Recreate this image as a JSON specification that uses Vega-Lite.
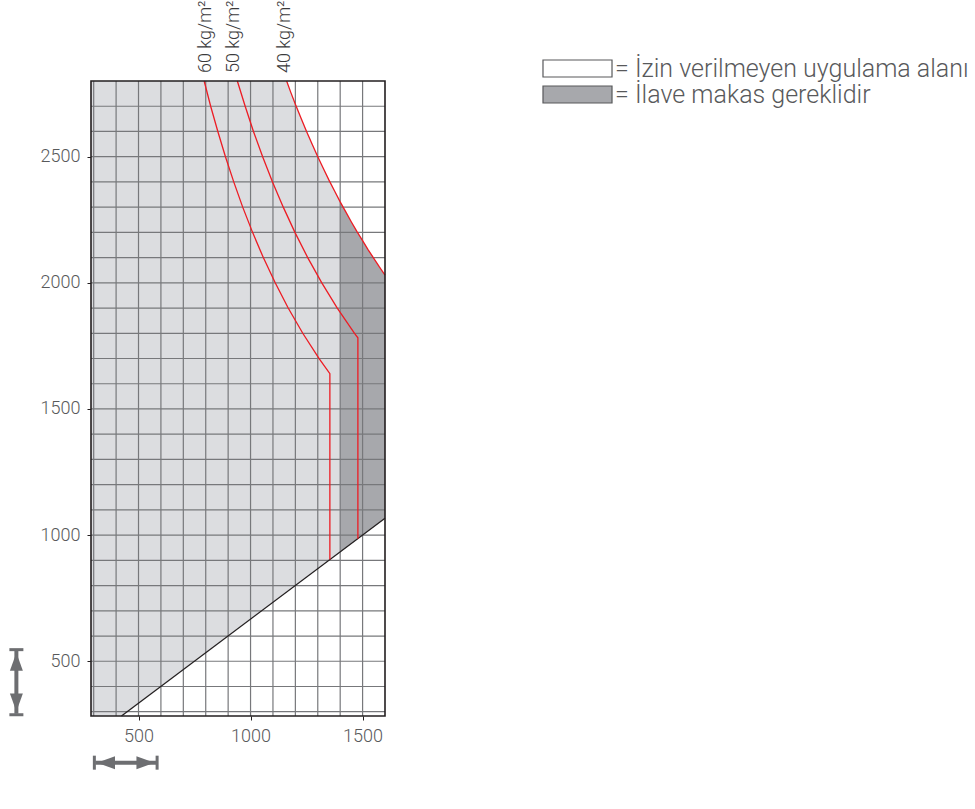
{
  "$schema": "https://vega.github.io/schema/vega-lite/v6.json",
  "autosize": "none",
  "width": 294,
  "height": 635,
  "padding": {"left": 91, "top": 81, "right": 590, "bottom": 93},
  "background": "white",
  "config": {
    "view": {"stroke": null},
    "font": "Roboto",
    "axis": {"labelFont": "Roboto", "labelFontWeight": 300, "labelFontSize": 18, "labelColor": "#58595b", "grid": false, "domain": false, "tickColor": "#231f20", "tickSize": 4, "tickWidth": 1, "format": "d"}
  },
  "datasets": {
    "fills": [
      {"zone": "light", "x": 288, "lo": 283, "hi": 2800},
      {"zone": "light", "x": 424, "lo": 283, "hi": 2800},
      {"zone": "light", "x": 1161, "lo": 774, "hi": 2800},
      {"zone": "light", "x": 1180, "lo": 787, "hi": 2754},
      {"zone": "light", "x": 1200, "lo": 800, "hi": 2708},
      {"zone": "light", "x": 1225, "lo": 817, "hi": 2653},
      {"zone": "light", "x": 1250, "lo": 833, "hi": 2600},
      {"zone": "light", "x": 1275, "lo": 850, "hi": 2549},
      {"zone": "light", "x": 1300, "lo": 867, "hi": 2500},
      {"zone": "light", "x": 1325, "lo": 883, "hi": 2453},
      {"zone": "light", "x": 1350, "lo": 900, "hi": 2407},
      {"zone": "light", "x": 1375, "lo": 917, "hi": 2364},
      {"zone": "light", "x": 1400, "lo": 933, "hi": 2321},
      {"zone": "= İlave makas gereklidir", "x": 1400, "lo": 933, "hi": 2321},
      {"zone": "= İlave makas gereklidir", "x": 1425, "lo": 950, "hi": 2281},
      {"zone": "= İlave makas gereklidir", "x": 1450, "lo": 967, "hi": 2241},
      {"zone": "= İlave makas gereklidir", "x": 1475, "lo": 983, "hi": 2203},
      {"zone": "= İlave makas gereklidir", "x": 1500, "lo": 1000, "hi": 2167},
      {"zone": "= İlave makas gereklidir", "x": 1525, "lo": 1017, "hi": 2131},
      {"zone": "= İlave makas gereklidir", "x": 1550, "lo": 1033, "hi": 2097},
      {"zone": "= İlave makas gereklidir", "x": 1575, "lo": 1050, "hi": 2063},
      {"zone": "= İlave makas gereklidir", "x": 1600, "lo": 1067, "hi": 2031}
    ],
    "vgrid": [{"v": 300}, {"v": 400}, {"v": 500}, {"v": 600}, {"v": 700}, {"v": 800}, {"v": 900}, {"v": 1000}, {"v": 1100}, {"v": 1200}, {"v": 1300}, {"v": 1400}, {"v": 1500}],
    "hgrid": [{"v": 300}, {"v": 400}, {"v": 500}, {"v": 600}, {"v": 700}, {"v": 800}, {"v": 900}, {"v": 1000}, {"v": 1100}, {"v": 1200}, {"v": 1300}, {"v": 1400}, {"v": 1500}, {"v": 1600}, {"v": 1700}, {"v": 1800}, {"v": 1900}, {"v": 2000}, {"v": 2100}, {"v": 2200}, {"v": 2300}, {"v": 2400}, {"v": 2500}, {"v": 2600}, {"v": 2700}],
    "diag": [{"x": 424, "y": 283}, {"x": 1600, "y": 1067}],
    "curves": [
      {"c": "60", "i": 0, "x": 793, "y": 2800},
      {"c": "60", "i": 1, "x": 822, "y": 2700},
      {"c": "60", "i": 2, "x": 854, "y": 2600},
      {"c": "60", "i": 3, "x": 888, "y": 2500},
      {"c": "60", "i": 4, "x": 925, "y": 2400},
      {"c": "60", "i": 5, "x": 965, "y": 2300},
      {"c": "60", "i": 6, "x": 1009, "y": 2200},
      {"c": "60", "i": 7, "x": 1057, "y": 2100},
      {"c": "60", "i": 8, "x": 1110, "y": 2000},
      {"c": "60", "i": 9, "x": 1168, "y": 1900},
      {"c": "60", "i": 10, "x": 1233, "y": 1800},
      {"c": "60", "i": 11, "x": 1306, "y": 1700},
      {"c": "60", "i": 12, "x": 1354, "y": 1640},
      {"c": "60", "i": 13, "x": 1354, "y": 903},
      {"c": "50", "i": 0, "x": 941, "y": 2800},
      {"c": "50", "i": 1, "x": 976, "y": 2700},
      {"c": "50", "i": 2, "x": 1013, "y": 2600},
      {"c": "50", "i": 3, "x": 1054, "y": 2500},
      {"c": "50", "i": 4, "x": 1098, "y": 2400},
      {"c": "50", "i": 5, "x": 1146, "y": 2300},
      {"c": "50", "i": 6, "x": 1198, "y": 2200},
      {"c": "50", "i": 7, "x": 1255, "y": 2100},
      {"c": "50", "i": 8, "x": 1318, "y": 2000},
      {"c": "50", "i": 9, "x": 1387, "y": 1900},
      {"c": "50", "i": 10, "x": 1464, "y": 1800},
      {"c": "50", "i": 11, "x": 1479, "y": 1782},
      {"c": "50", "i": 12, "x": 1479, "y": 986},
      {"c": "40", "i": 0, "x": 1161, "y": 2800},
      {"c": "40", "i": 1, "x": 1180, "y": 2754},
      {"c": "40", "i": 2, "x": 1200, "y": 2708},
      {"c": "40", "i": 3, "x": 1225, "y": 2653},
      {"c": "40", "i": 4, "x": 1250, "y": 2600},
      {"c": "40", "i": 5, "x": 1275, "y": 2549},
      {"c": "40", "i": 6, "x": 1300, "y": 2500},
      {"c": "40", "i": 7, "x": 1325, "y": 2453},
      {"c": "40", "i": 8, "x": 1350, "y": 2407},
      {"c": "40", "i": 9, "x": 1375, "y": 2364},
      {"c": "40", "i": 10, "x": 1400, "y": 2321},
      {"c": "40", "i": 11, "x": 1425, "y": 2281},
      {"c": "40", "i": 12, "x": 1450, "y": 2241},
      {"c": "40", "i": 13, "x": 1475, "y": 2203},
      {"c": "40", "i": 14, "x": 1500, "y": 2167},
      {"c": "40", "i": 15, "x": 1525, "y": 2131},
      {"c": "40", "i": 16, "x": 1550, "y": 2097},
      {"c": "40", "i": 17, "x": 1575, "y": 2063},
      {"c": "40", "i": 18, "x": 1600, "y": 2031}
    ],
    "labels": [
      {"x": 801, "y": 2800, "t": "60 kg/m²"},
      {"x": 928, "y": 2800, "t": "50 kg/m²"},
      {"x": 1152, "y": 2800, "t": "40 kg/m²"}
    ],
    "frame": [{"x": 288, "x2": 1600, "y": 283, "y2": 2800}],
    "shafts": [
      {"x": -45, "x2": -45, "y": 292, "y2": 542},
      {"x": 307, "x2": 579, "y": 98, "y2": 98}
    ],
    "heads": [
      {"x": -45, "y": 498, "d": "up"},
      {"x": -45, "y": 337, "d": "down"},
      {"x": 355, "y": 98, "d": "left"},
      {"x": 531, "y": 98, "d": "right"}
    ],
    "hcaps": [{"x": -45, "y": 546}, {"x": -45, "y": 288}],
    "vcaps": [{"x": 303, "y": 98}, {"x": 583, "y": 98}]
  },
  "layer": [
    {
      "data": {"name": "fills"},
      "mark": {"type": "area", "opacity": 1},
      "encoding": {
        "x": {"field": "x", "type": "quantitative", "title": null, "scale": {"domain": [288, 1600], "nice": false, "zero": false}, "axis": {"values": [500, 1000, 1500], "labelPadding": 7, "format": "d"}},
        "y": {"field": "hi", "type": "quantitative", "title": null, "scale": {"domain": [283, 2800], "nice": false, "zero": false}, "axis": {"values": [500, 1000, 1500, 2000, 2500], "labelPadding": 7, "format": "d"}},
        "y2": {"field": "lo"},
        "color": {
          "field": "zone", "type": "nominal",
          "scale": {"domain": ["= İzin verilmeyen uygulama alanı", "= İlave makas gereklidir", "light"], "range": ["#ffffff", "#a7a8ac", "#dcdde0"]},
          "legend": {
            "orient": "none", "legendX": 474, "legendY": -25, "title": null,
            "values": ["= İzin verilmeyen uygulama alanı", "= İlave makas gereklidir"],
            "symbolType": "M-4.06,-1H4.06V1H-4.06Z", "symbolSize": 289,
            "symbolStrokeColor": "#58595b", "symbolStrokeWidth": 1.2, "symbolOpacity": 1,
            "labelFont": "Roboto", "labelFontWeight": 300, "labelFontSize": 25, "labelColor": "#58595b",
            "labelOffset": 25, "labelLimit": 0, "rowPadding": -6
          }
        }
      }
    },
    {
      "data": {"name": "vgrid"},
      "mark": {"type": "rule", "color": "#77787b", "strokeWidth": 1.2},
      "encoding": {"x": {"field": "v", "type": "quantitative", "title": null}}
    },
    {
      "data": {"name": "hgrid"},
      "mark": {"type": "rule", "color": "#77787b", "strokeWidth": 1.2},
      "encoding": {"y": {"field": "v", "type": "quantitative", "title": null}}
    },
    {
      "data": {"name": "diag"},
      "mark": {"type": "line", "color": "#231f20", "strokeWidth": 1.3},
      "encoding": {"x": {"field": "x", "type": "quantitative", "title": null}, "y": {"field": "y", "type": "quantitative", "title": null}}
    },
    {
      "data": {"name": "curves"},
      "mark": {"type": "line", "color": "#ed1c24", "strokeWidth": 1.3},
      "encoding": {
        "x": {"field": "x", "type": "quantitative", "title": null},
        "y": {"field": "y", "type": "quantitative", "title": null},
        "detail": {"field": "c", "type": "nominal"},
        "order": {"field": "i", "type": "quantitative"}
      }
    },
    {
      "data": {"name": "frame"},
      "mark": {"type": "rect", "filled": false, "stroke": "#231f20", "strokeWidth": 1.6},
      "encoding": {
        "x": {"field": "x", "type": "quantitative", "title": null},
        "x2": {"field": "x2"},
        "y": {"field": "y", "type": "quantitative", "title": null},
        "y2": {"field": "y2"}
      }
    },
    {
      "data": {"name": "labels"},
      "mark": {"type": "text", "angle": 270, "align": "left", "baseline": "middle", "dx": 8, "fontSize": 18, "font": "Roboto", "fontWeight": 300, "color": "#3a3a3c"},
      "encoding": {
        "x": {"field": "x", "type": "quantitative", "title": null},
        "y": {"field": "y", "type": "quantitative", "title": null},
        "text": {"field": "t"}
      }
    },
    {
      "data": {"name": "shafts"},
      "mark": {"type": "rule", "color": "#6d6e71", "strokeWidth": 4},
      "encoding": {
        "x": {"field": "x", "type": "quantitative", "title": null},
        "x2": {"field": "x2"},
        "y": {"field": "y", "type": "quantitative", "title": null},
        "y2": {"field": "y2"}
      }
    },
    {
      "data": {"name": "heads"},
      "mark": {"type": "point", "filled": true, "opacity": 1, "color": "#6d6e71", "size": 324},
      "encoding": {
        "x": {"field": "x", "type": "quantitative", "title": null},
        "y": {"field": "y", "type": "quantitative", "title": null},
        "shape": {"field": "d", "type": "nominal", "legend": null, "scale": {"domain": ["up", "down", "left", "right"], "range": ["M0,-1L0.72,1L-0.72,1Z", "M0,1L0.72,-1L-0.72,-1Z", "M-1,0L1,0.72L1,-0.72Z", "M1,0L-1,0.72L-1,-0.72Z"]}}
      }
    },
    {
      "data": {"name": "hcaps"},
      "mark": {"type": "tick", "orient": "horizontal", "color": "#6d6e71", "size": 14, "thickness": 3, "opacity": 1},
      "encoding": {
        "x": {"field": "x", "type": "quantitative", "title": null},
        "y": {"field": "y", "type": "quantitative", "title": null}
      }
    },
    {
      "data": {"name": "vcaps"},
      "mark": {"type": "tick", "orient": "vertical", "color": "#6d6e71", "size": 14, "thickness": 3, "opacity": 1},
      "encoding": {
        "x": {"field": "x", "type": "quantitative", "title": null},
        "y": {"field": "y", "type": "quantitative", "title": null}
      }
    }
  ]
}
